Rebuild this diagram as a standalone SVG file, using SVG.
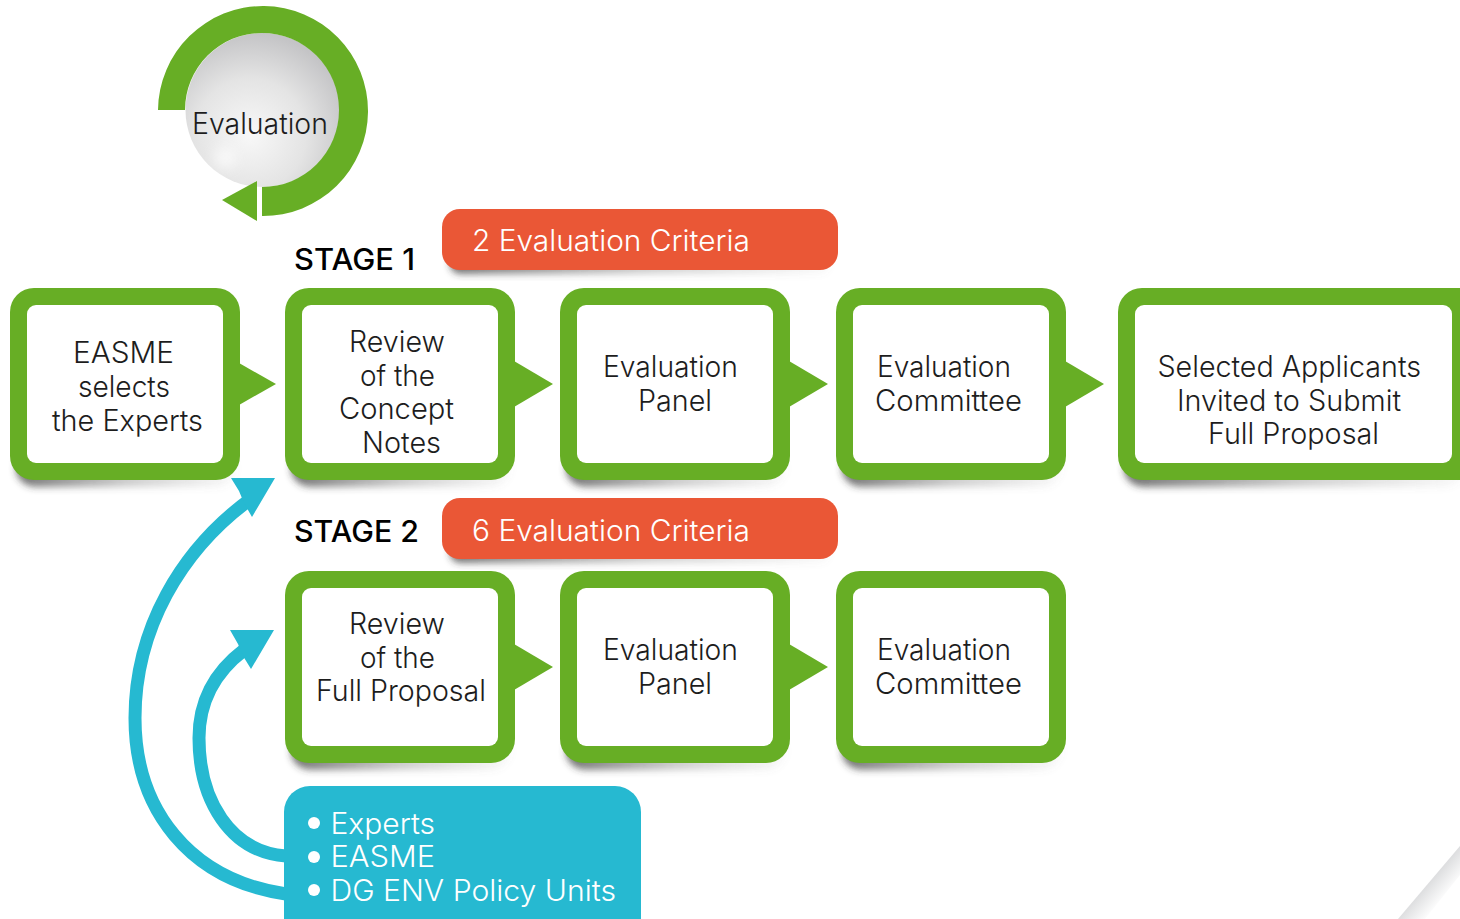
<svg xmlns="http://www.w3.org/2000/svg" width="1460" height="919" viewBox="0 0 1460 919">
<style>
text{font-family:Inter,"Liberation Sans",sans-serif;font-weight:300;font-size:29.5px;fill:#1d1d1d}
.w{fill:#fff}
.s{font-weight:500;font-size:29.5px;fill:#000}
.g{fill:#67ae25}
.o{fill:#ea5736}
.b{fill:#26b9d1}
.in{fill:#fff}
.sh{fill:url(#shade);filter:url(#blur)}
.c{fill:none;stroke:#26b9d1;stroke-width:13}
</style>
<defs>
<filter id="blur" x="-10%" y="-30%" width="120%" height="160%"><feGaussianBlur stdDeviation="3.500"/></filter>
<filter id="spot" x="-50%" y="-50%" width="200%" height="200%"><feGaussianBlur stdDeviation="7"/></filter>
<linearGradient id="shade"><stop offset="0" stop-color="#333" stop-opacity=".7"/><stop offset=".5" stop-color="#555" stop-opacity=".3"/><stop offset="1" stop-color="#777" stop-opacity=".04"/></linearGradient>
<radialGradient id="ball" cx="0.42" cy="0.66" r="0.66">
<stop offset="0" stop-color="#f8f8f8"/><stop offset="0.55" stop-color="#e4e4e4"/><stop offset="1" stop-color="#c4c4c6"/>
</radialGradient>
<linearGradient id="curl" gradientUnits="userSpaceOnUse" x1="1425" y1="877" x2="1447" y2="896"><stop offset="0" stop-color="#d3d4d6"/><stop offset="1" stop-color="#fff"/></linearGradient>
</defs>
<rect width="1460" height="919" fill="#fff"/>
<g id="page-curl"><polygon points="1398,919 1460,846 1460,875 1425,919" fill="url(#curl)"/></g>
<g id="evaluation">
<circle cx="262.500" cy="110" r="77" fill="url(#ball)"/>
<circle cx="225" cy="158" r="10" fill="#fff" opacity=".8" filter="url(#spot)"/>
<path class="g" d="M158,110 A105,105 0 1 1 262,216 L262,187 A77,77 0 1 0 185,110 Z"/>
<polygon class="g" points="257,181 222,200 257,221"/>
<text x="192" y="134" textLength="136" lengthAdjust="spacingAndGlyphs">Evaluation</text>
</g>
<g id="stage-1-label"><text class="s" x="294" y="270" textLength="121" lengthAdjust="spacingAndGlyphs">STAGE 1</text></g>
<g id="criteria-2">
<rect class="sh" x="450" y="252" width="380" height="22" rx="10"/>
<rect class="o" x="442" y="209" width="396" height="61" rx="18"/>
<text class="w" x="472" y="251" textLength="278" lengthAdjust="spacingAndGlyphs">2 Evaluation Criteria</text>
</g>
<g id="easme">
<rect class="sh" x="16" y="450" width="220" height="37" rx="20"/>
<rect class="g" x="10" y="288" width="230" height="192" rx="24"/>
<polygon class="g" points="239,363 276,384 239,405"/>
<rect class="in" x="27" y="305" width="196" height="158" rx="9"/>
<text x="73" y="362.500" textLength="101" lengthAdjust="spacingAndGlyphs">EASME</text>
<text x="78" y="396.500" textLength="92" lengthAdjust="spacingAndGlyphs">selects</text>
<text x="52" y="430.500" textLength="151" lengthAdjust="spacingAndGlyphs">the Experts</text>
</g>
<g id="review-concept">
<rect class="sh" x="291" y="450" width="220" height="37" rx="20"/>
<rect class="g" x="285" y="288" width="230" height="192" rx="24"/>
<polygon class="g" points="514,361 553,384 514,407"/>
<rect class="in" x="302" y="305" width="196" height="158" rx="9"/>
<text x="349" y="352" textLength="96" lengthAdjust="spacingAndGlyphs">Review</text>
<text x="360" y="385.500" textLength="75" lengthAdjust="spacingAndGlyphs">of the</text>
<text x="339" y="419" textLength="115" lengthAdjust="spacingAndGlyphs">Concept</text>
<text x="362" y="452.500" textLength="79" lengthAdjust="spacingAndGlyphs">Notes</text>
</g>
<g id="panel-1">
<rect class="sh" x="566" y="450" width="220" height="37" rx="20"/>
<rect class="g" x="560" y="288" width="230" height="192" rx="24"/>
<polygon class="g" points="789,361 828,384 789,407"/>
<rect class="in" x="577" y="305" width="196" height="158" rx="9"/>
<text x="603" y="376.500" textLength="135" lengthAdjust="spacingAndGlyphs">Evaluation</text>
<text x="638" y="410.500" textLength="74" lengthAdjust="spacingAndGlyphs">Panel</text>
</g>
<g id="committee-1">
<rect class="sh" x="842" y="450" width="220" height="37" rx="20"/>
<rect class="g" x="836" y="288" width="230" height="192" rx="24"/>
<polygon class="g" points="1065,361 1104,384 1065,407"/>
<rect class="in" x="853" y="305" width="196" height="158" rx="9"/>
<text x="877" y="376.500" textLength="134" lengthAdjust="spacingAndGlyphs">Evaluation</text>
<text x="875" y="410.500" textLength="147" lengthAdjust="spacingAndGlyphs">Committee</text>
</g>
<g id="selected">
<rect class="sh" x="1124" y="450" width="340" height="37" rx="20"/>
<rect class="g" x="1118" y="288" width="370" height="192" rx="24"/>
<rect class="in" x="1135" y="305" width="317" height="158" rx="9"/>
<text x="1157.500" y="376.500" textLength="263.500" lengthAdjust="spacingAndGlyphs">Selected Applicants</text>
<text x="1177" y="410.500" textLength="224" lengthAdjust="spacingAndGlyphs">Invited to Submit</text>
<text x="1208" y="443.500" textLength="171" lengthAdjust="spacingAndGlyphs">Full Proposal</text>
</g>
<g id="stage-2-label"><text class="s" x="294" y="542" textLength="125" lengthAdjust="spacingAndGlyphs">STAGE 2</text></g>
<g id="criteria-6">
<rect class="sh" x="450" y="541" width="380" height="22" rx="10"/>
<rect class="o" x="442" y="498" width="396" height="61" rx="18"/>
<text class="w" x="472" y="541" textLength="278" lengthAdjust="spacingAndGlyphs">6 Evaluation Criteria</text>
</g>
<g id="review-full">
<rect class="sh" x="291" y="733" width="220" height="37" rx="20"/>
<rect class="g" x="285" y="571" width="230" height="192" rx="24"/>
<polygon class="g" points="514,644 553,667 514,690"/>
<rect class="in" x="302" y="588" width="196" height="158" rx="9"/>
<text x="349" y="634" textLength="96" lengthAdjust="spacingAndGlyphs">Review</text>
<text x="360" y="667.500" textLength="75" lengthAdjust="spacingAndGlyphs">of the</text>
<text x="316" y="701" textLength="170" lengthAdjust="spacingAndGlyphs">Full Proposal</text>
</g>
<g id="panel-2">
<rect class="sh" x="566" y="733" width="220" height="37" rx="20"/>
<rect class="g" x="560" y="571" width="230" height="192" rx="24"/>
<polygon class="g" points="789,644 828,667 789,690"/>
<rect class="in" x="577" y="588" width="196" height="158" rx="9"/>
<text x="603" y="659.500" textLength="135" lengthAdjust="spacingAndGlyphs">Evaluation</text>
<text x="638" y="693.500" textLength="74" lengthAdjust="spacingAndGlyphs">Panel</text>
</g>
<g id="committee-2">
<rect class="sh" x="842" y="733" width="220" height="37" rx="20"/>
<rect class="g" x="836" y="571" width="230" height="192" rx="24"/>
<rect class="in" x="853" y="588" width="196" height="158" rx="9"/>
<text x="877" y="659.500" textLength="134" lengthAdjust="spacingAndGlyphs">Evaluation</text>
<text x="875" y="693.500" textLength="147" lengthAdjust="spacingAndGlyphs">Committee</text>
</g>
<g id="connectors">
<path class="c" d="M286,856 C230,852 199,800 199,738 C199,700 215,672 244,650"/>
<polygon class="b" points="230,630 274,630 251,669 243,656 238,644"/>
<path class="c" d="M286,894 C190,880 135,810 135,718 C135,630 180,550 252,498"/>
<polygon class="b" points="231,478 275,478 252,517 244,503 239,491"/>
</g>
<g id="reviewers">
<rect class="b" x="284" y="786" width="357" height="160" rx="26"/>
<circle class="w" cx="314" cy="823" r="6"/><circle class="w" cx="314" cy="857" r="6"/><circle class="w" cx="314" cy="890" r="6"/>
<text class="w" x="330.500" y="834" textLength="104.500" lengthAdjust="spacingAndGlyphs">Experts</text>
<text class="w" x="330.500" y="867" textLength="104.500" lengthAdjust="spacingAndGlyphs">EASME</text>
<text class="w" x="330.500" y="901" textLength="285.500" lengthAdjust="spacingAndGlyphs">DG ENV Policy Units</text>
</g>
</svg>
